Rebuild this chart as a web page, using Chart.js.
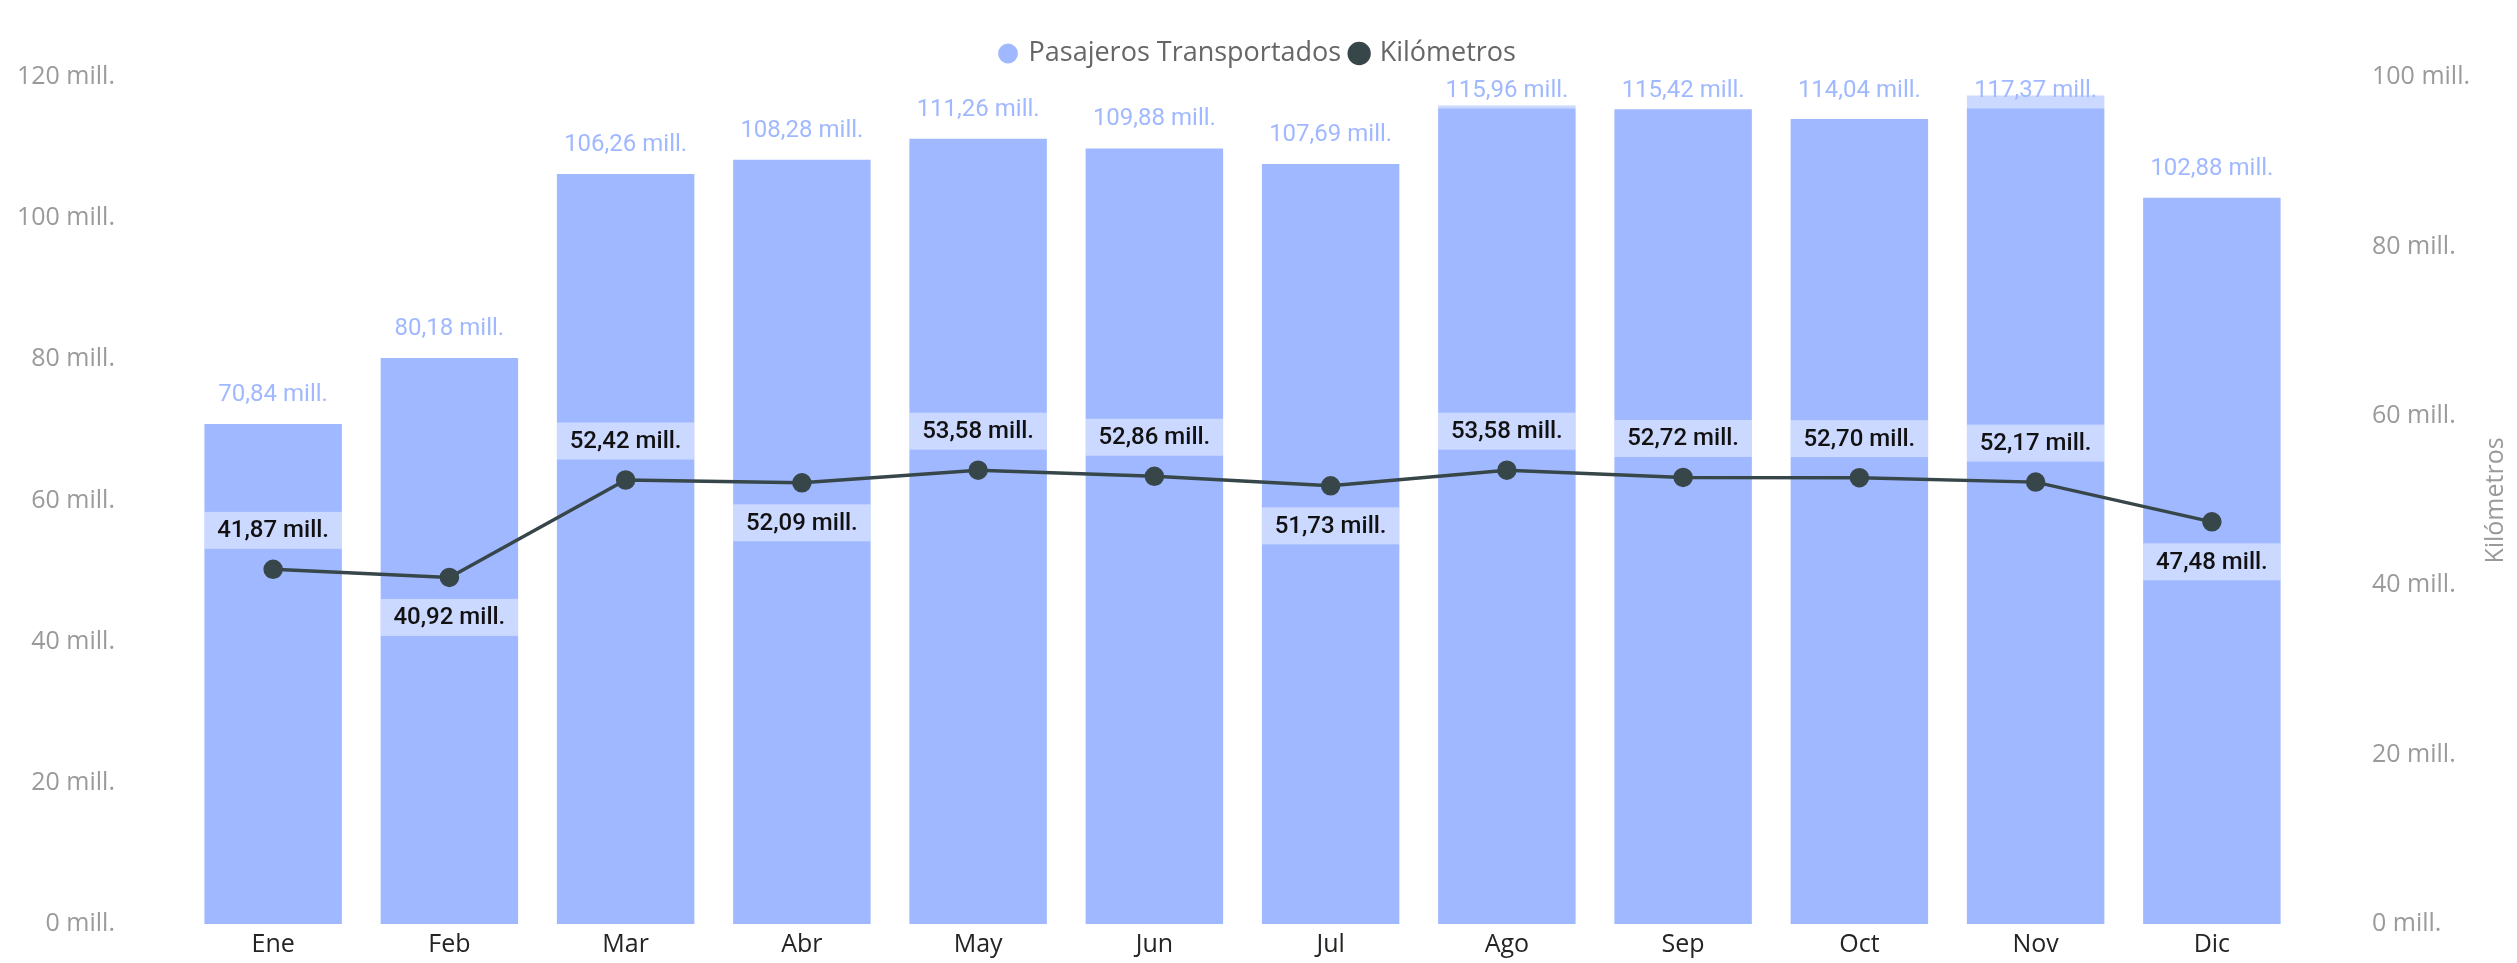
<!DOCTYPE html>
<html>
<head>
<meta charset="utf-8">
<script src="https://cdn.jsdelivr.net/npm/chart.js@4.4.1/dist/chart.umd.min.js"></script>
<style>
  html, body { margin: 0; padding: 0; background: #fff; }
  canvas { display: block; }
</style>
</head>
<body>
<canvas id="chart" width="2517" height="963"></canvas>
<script>
// data
const months = ['Ene', 'Feb', 'Mar', 'Abr', 'May', 'Jun', 'Jul', 'Ago', 'Sep', 'Oct', 'Nov', 'Dic'];
const pasajeros = [70.84, 80.18, 106.26, 108.28, 111.26, 109.88, 107.69, 115.96, 115.42, 114.04, 117.37, 102.88];
const kilometros = [41.87, 40.92, 52.42, 52.09, 53.58, 52.86, 51.73, 53.58, 52.72, 52.70, 52.17, 47.48];
// where each km label sits relative to its point
const kmLabelSide = ['above', 'below', 'above', 'below', 'above', 'above', 'below', 'above', 'above', 'above', 'above', 'below'];
const leftMax = 120;
const rightMax = 100;
const tickStep = 20;

const barColor = '#A0B8FF';
const lineColor = '#374649';

function fmt(v) {
  return v.toFixed(2).replace('.', ',') + ' mill.';
}

// draws the value labels (Chart.js has no built in data labels)
const valueLabels = {
  id: 'valueLabels',
  afterDatasetsDraw(chart) {
    const ctx = chart.ctx;
    const top = chart.chartArea.top;
    const bars = chart.getDatasetMeta(0).data;
    const points = chart.getDatasetMeta(1).data;
    ctx.save();
    ctx.textAlign = 'center';
    ctx.textBaseline = 'middle';

    ctx.font = '24px Roboto';
    bars.forEach((bar, i) => {
      const txt = fmt(pasajeros[i]);
      const y = Math.max(bar.y - 30, top + 13);
      const w = Math.max(ctx.measureText(txt).width + 16, bar.width);
      ctx.fillStyle = 'rgba(255,255,255,0.45)';
      ctx.fillRect(bar.x - w / 2, y - 18.5, w, 37);
      ctx.fillStyle = barColor;
      ctx.fillText(txt, bar.x, y + 1);
    });

    ctx.font = '500 24px Roboto';
    points.forEach((pt, i) => {
      const txt = fmt(kilometros[i]);
      const y = kmLabelSide[i] === 'above' ? pt.y - 39 : pt.y + 40;
      const w = Math.max(ctx.measureText(txt).width + 16, bars[i].width);
      ctx.fillStyle = 'rgba(255,255,255,0.45)';
      ctx.fillRect(pt.x - w / 2, y - 18.5, w, 37);
      ctx.fillStyle = '#111';
      ctx.fillText(txt, pt.x, y + 1);
    });
    ctx.restore();
  },
  afterDraw(chart) {
    // right axis title reads bottom-to-top
    const ctx = chart.ctx;
    const a = chart.chartArea;
    ctx.save();
    ctx.translate(chart.width - 21, (a.top + a.bottom) / 2);
    ctx.rotate(-Math.PI / 2);
    ctx.font = '25px "Open Sans"';
    ctx.fillStyle = '#9a9a9a';
    ctx.textAlign = 'center';
    ctx.textBaseline = 'middle';
    ctx.fillText('Kilómetros', 0, 0);
    ctx.restore();
  }
};

// fixed axis box sizes so the plot lines up with the picture
function fixAxis(width) {
  return function (scale) {
    scale.width = width;
    scale.paddingTop = 77;
    scale.paddingBottom = 39;
  };
}

const ctx = document.getElementById('chart').getContext('2d');
const chart = new Chart(ctx, {
  type: 'bar',
  data: {
    labels: months,
    datasets: [{
      type: 'bar',
      label: 'Pasajeros Transportados',
      data: pasajeros,
      backgroundColor: barColor,
      yAxisID: 'y',
      categoryPercentage: 1,
      barPercentage: 0.78,
      order: 2
    }, {
      type: 'line',
      label: 'Kilómetros',
      data: kilometros,
      borderColor: lineColor,
      backgroundColor: lineColor,
      borderWidth: 3.5,
      pointRadius: 8,
      pointBackgroundColor: lineColor,
      pointBorderColor: lineColor,
      yAxisID: 'y1',
      order: 1
    }]
  },
  options: {
    responsive: false,
    animation: false,
    devicePixelRatio: 1,
    layout: { padding: 0 },
    plugins: {
      tooltip: { enabled: false },
      legend: {
        position: 'top',
        labels: {
          usePointStyle: true,
          pointStyle: 'circle',
          boxWidth: 14,
          boxHeight: 14,
          padding: 11,
          color: '#666',
          font: { family: '"Open Sans"', size: 27 },
          sort: (a, b) => a.datasetIndex - b.datasetIndex
        }
      }
    },
    scales: {
      x: {
        grid: { display: false, drawTicks: false },
        border: { display: false },
        ticks: { color: '#252423', font: { family: '"Open Sans"', size: 25 }, padding: 6 },
        afterFit(scale) { scale.height = 39; }
      },
      y: {
        position: 'left',
        min: 0, max: leftMax,
        grid: { display: false, drawTicks: false },
        border: { display: false },
        ticks: {
          stepSize: tickStep,
          padding: 70,
          color: '#9a9a9a',
          font: { family: '"Open Sans"', size: 25 },
          callback: v => v + ' mill.'
        },
        afterFit: fixAxis(185)
      },
      y1: {
        position: 'right',
        min: 0, max: rightMax,
        grid: { display: false, drawTicks: false },
        border: { display: false },
        ticks: {
          stepSize: tickStep,
          padding: 72,
          color: '#9a9a9a',
          font: { family: '"Open Sans"', size: 25 },
          callback: v => v + ' mill.'
        },
        afterFit: fixAxis(217)
      }
    }
  },
  plugins: [valueLabels]
});
</script>
</body>
</html>
